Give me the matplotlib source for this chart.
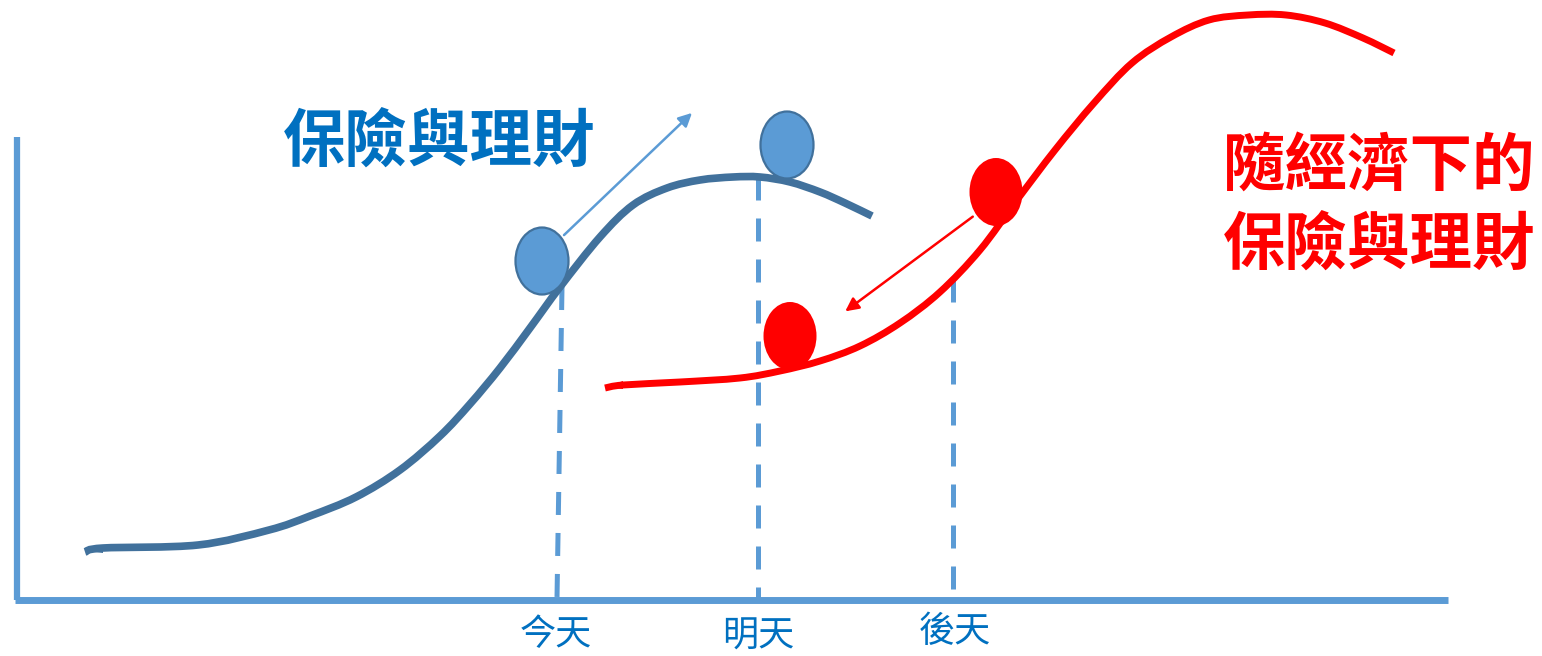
import matplotlib.pyplot as plt
import numpy as np
from matplotlib.patches import Ellipse, PathPatch
from matplotlib.path import Path

plt.rcParams['font.family'] = ['Noto Sans CJK TC', 'DejaVu Sans']

# curves (pixel coords, y down)
blue_x = [85, 103, 198, 269, 310, 356, 400, 440, 470, 500, 530, 560, 600, 633, 667, 700, 733, 760, 790, 820, 845, 872]
blue_y = [552, 548, 545, 530, 516, 497, 470, 436, 404, 368, 328, 287, 237, 205, 188, 180, 177, 177, 182, 192, 203, 216]

red_x = [605, 623, 680, 740, 780, 820, 860, 900, 940, 980, 1017, 1055, 1094, 1132, 1171, 1209, 1248, 1286, 1325, 1363, 1394]
red_y = [388, 385, 382, 378, 371, 361, 346, 323, 292, 250, 200, 150, 103, 63, 37, 20, 15, 15, 23, 38, 53]

tick_labels = ['今天', '明天', '後天']
tick_x = [557, 758, 953]
tick_top = [287, 177, 279]
tick_bottom = [598, 598, 590]

blue_balls = [(542, 261), (787, 145)]
red_balls = [(996, 192), (790, 336)]

c_axis = '#5b9bd5'
c_curve = '#41719c'
c_text = '#0070c0'
c_red = '#ff0000'


def smooth_path(xs, ys):
    # catmull-rom through the points, as cubic bezier segments
    p = np.column_stack([xs, ys]).astype(float)
    p = np.vstack([p[0], p, p[-1]])
    verts = [p[1]]
    codes = [Path.MOVETO]
    for i in range(1, len(p) - 2):
        c1 = p[i] + (p[i + 1] - p[i - 1]) / 6
        c2 = p[i + 1] - (p[i + 2] - p[i]) / 6
        verts += [c1, c2, p[i + 1]]
        codes += [Path.CURVE4] * 3
    return Path(verts, codes)


fig = plt.figure(figsize=(15.42, 6.56), dpi=100)
ax = fig.add_axes([0, 0, 1, 1])
ax.set_xlim(0, 1542)
ax.set_ylim(656, 0)
ax.axis('off')

# axes
ax.plot([17, 17], [137, 600], color=c_axis, lw=4.5, solid_capstyle='butt')
ax.plot([15, 1448], [600, 600], color=c_axis, lw=5, solid_capstyle='butt')

# dashed drop lines
top_shift = [5, 0, 0]
for x, t, b, s in zip(tick_x, tick_top, tick_bottom, top_shift):
    ax.plot([x + s, x], [t, b], color=c_axis, lw=3.6, dashes=(4.6, 3.6))

# curves
ax.add_patch(PathPatch(smooth_path(blue_x, blue_y), facecolor='none', edgecolor=c_curve,
                       lw=5.5, capstyle='butt', zorder=3))
ax.add_patch(PathPatch(smooth_path(red_x, red_y), facecolor='none', edgecolor=c_red,
                       lw=5, capstyle='butt', zorder=3))
# tapered tips
ax.fill([85, 103, 103], [551, 545, 553], color=c_curve, lw=0, zorder=3)
ax.fill([605, 623, 623], [387, 381, 389], color=c_red, lw=0, zorder=3)

# balls
for cx, cy in blue_balls:
    ax.add_patch(Ellipse((cx, cy), 53, 67, facecolor=c_axis, edgecolor=c_curve, lw=1.6, zorder=4))
for cx, cy in red_balls:
    ax.add_patch(Ellipse((cx, cy), 53, 68, facecolor=c_red, edgecolor='none', zorder=4))

# arrows
ax.annotate('', xy=(694, 111), xytext=(562, 237),
            arrowprops=dict(arrowstyle='-|>', color=c_axis, lw=1.8, mutation_scale=20), zorder=2)
ax.annotate('', xy=(843, 313), xytext=(975, 215),
            arrowprops=dict(arrowstyle='-|>', color=c_red, lw=1.8, mutation_scale=20), zorder=2)

# labels
ax.text(439, 142, '保險與理財', color=c_text, fontsize=45, fontweight='bold', ha='center', va='center')
ax.text(1379, 166, '隨經濟下的', color=c_red, fontsize=45, fontweight='bold', ha='center', va='center')
ax.text(1379, 245, '保險與理財', color=c_red, fontsize=45, fontweight='bold', ha='center', va='center')

for lab, x, y in zip(tick_labels, [556, 758, 955], [635, 637, 632]):
    ax.text(x, y, lab, color=c_text, fontsize=26, ha='center', va='center')

fig.savefig('out.png', dpi=100)
